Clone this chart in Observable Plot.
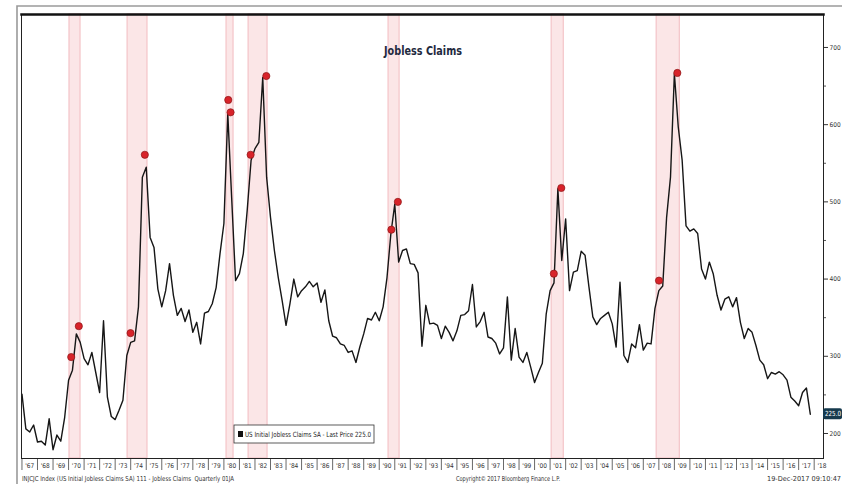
<!DOCTYPE html>
<html><head><meta charset="utf-8">
<script src="https://cdn.jsdelivr.net/npm/d3@7"></script>
<script src="https://cdn.jsdelivr.net/npm/@observablehq/plot@0.6"></script>
<style>body{margin:0;background:#fff} svg{display:block}</style>
</head><body><div id="chart"></div>
<script>
// Quarterly US initial jobless claims (thousands), starting 1967 Q1
const startYear = 1967;
const claims = [
  251,206,202,211,189,190,185,219,179,198,
  190,221,269,282,329,318,297,289,305,279,
  253,346,247,222,218,230,243,301,318,320,
  364,532,545,454,441,387,364,385,420,379,
  353,362,345,360,331,344,316,356,358,368,
  389,433,472,614,505,398,407,433,489,554,
  569,577,661,532,480,437,402,372,340,368,
  400,377,385,390,397,390,395,370,386,346,
  326,324,316,314,305,307,292,312,329,349,
  347,357,346,364,402,459,497,422,437,439,
  420,419,408,313,366,342,343,340,323,339,
  331,320,333,353,354,359,393,338,345,357,
  325,323,317,303,311,377,295,336,299,292,
  305,286,266,279,291,355,385,395,517,424,
  478,385,409,411,436,431,390,351,341,349,
  353,357,342,312,396,301,292,316,311,341,
  308,317,316,362,385,391,480,532,666,597,
  554,469,462,465,459,413,400,422,407,379,
  360,374,377,364,376,344,323,336,331,314,
  295,289,271,279,277,280,276,269,247,242,
  236,253,259,225
];
// Recession bands as drawn
const recessionStarts = [1970.06, 1973.80, 1980.17, 1981.59, 1990.60, 2001.10, 2007.86];
const recessionEnds   = [1970.77, 1975.08, 1980.62, 1982.81, 1991.31, 2001.88, 2009.35];
// event markers (start of recession and peak)
const markerDates  = [1970.17, 1970.66, 1973.99, 1974.91, 1980.28, 1980.43, 1981.72, 1982.73, 1990.78, 1991.2, 2001.24, 2001.72, 2008.01, 2009.19];
const markerValues = [299, 339, 330, 561, 632, 616, 561, 663, 464, 500, 407, 518, 398, 667];
const yTicks = [200, 300, 400, 500, 600, 700];
const yMinorTicks = [250, 350, 450, 550, 650];
const yearTicks = d3.range(1967, 2019);
const yearLabels = yearTicks.map(y => "'" + String(y).slice(2));
const title = "Jobless Claims";
const legendLabel = "US Initial Jobless Claims SA - Last Price 225.0";
const footerLeft = "INJCJC Index (US Initial Jobless Claims SA) 111 - Jobless Claims  Quarterly 01JA";
const footerMid = "Copyright\u00A9 2017 Bloomberg Finance L.P.";
const footerRight = "19-Dec-2017 09:10:47";

const series = claims.map((v, i) => ({date: startYear + i * 0.25, value: v}));
const recessions = recessionStarts.map((s, i) => ({start: s, end: recessionEnds[i]}));
const markers = markerDates.map((d, i) => ({date: d, value: markerValues[i]}));
const font = "'Liberation Sans Narrow', 'DejaVu Sans Condensed', 'Liberation Sans', sans-serif";

const plot = Plot.plot({
  width: 842, height: 484,
  marginTop: 14, marginBottom: 26, marginLeft: 21, marginRight: 19,
  x: {domain: [1966.97, 2018.6], label: null},
  y: {domain: [167.6, 742.7], label: null},
  style: {fontFamily: font, background: "#fff", color: "#333"},
  marks: [
    Plot.rect(recessions, {x1: "start", x2: "end", fill: "#fbe6e7"}),
    Plot.rect(recessions, {x1: "start", x2: "end", fill: "none", stroke: "#f4c4c8", strokeWidth: 1.2}),
    Plot.line(series, {x: "date", y: "value", stroke: "#161616", strokeWidth: 1.4}),
    Plot.dot(markers, {x: "date", y: "value", r: 3.6, fill: "#d8232a", stroke: "#8a1515", strokeWidth: 0.7}),
    Plot.axisY({anchor: "right", ticks: yTicks, tickSize: 4, tickPadding: 2, fontSize: 6.5, stroke: "#333", label: null}),
    Plot.axisY({anchor: "right", ticks: yMinorTicks, tickSize: 2, tickFormat: () => "", stroke: "#555", label: null}),
    Plot.axisX({ticks: yearTicks, tickSize: 12, tickFormat: () => "", stroke: "#444", strokeWidth: 0.8, label: null}),
    Plot.axisX({ticks: yearTicks.map(y => y + 0.5), tickSize: 0, tickPadding: 5, fontSize: 6.5, label: null,
      tickFormat: d => yearLabels[yearTicks.indexOf(Math.floor(d))]}),
    Plot.frame({stroke: "#222", strokeWidth: 1}),
    Plot.frame({anchor: "top", stroke: "#111", strokeWidth: 2.5})
  ]
});

const svg = d3.select(plot);
const ys = plot.scale("y");
// outer scan frame
svg.append("path").attr("d", "M17,484V6H842").attr("fill", "none").attr("stroke", "#9a9a9a").attr("stroke-width", 1.6);
// title
svg.append("text").attr("x", 423).attr("y", 55).attr("text-anchor", "middle").attr("font-family", font)
  .attr("font-size", 13).attr("font-weight", "bold").attr("fill", "#1f2a40")
  .attr("textLength", 78).attr("lengthAdjust", "spacingAndGlyphs").text(title);
// legend box
const lg = svg.append("g").attr("font-family", font).attr("text-anchor", "start");
lg.append("rect").attr("x", 234).attr("y", 425).attr("width", 140).attr("height", 18).attr("fill", "#fff").attr("stroke", "#333").attr("stroke-width", 0.8);
lg.append("rect").attr("x", 238).attr("y", 431).attr("width", 5).attr("height", 6).attr("fill", "#111");
lg.append("text").attr("x", 245).attr("y", 437).attr("font-size", 7.2).attr("fill", "#222")
  .attr("textLength", 126).attr("lengthAdjust", "spacingAndGlyphs").text(legendLabel);
// last value tag
const lastV = claims[claims.length - 1];
const ty = ys.apply(lastV);
svg.append("rect").attr("x", 823).attr("y", ty - 5.5).attr("width", 19).attr("height", 11).attr("rx", 2).attr("fill", "#163a4e");
svg.append("text").attr("x", 825).attr("y", ty + 2.5).attr("text-anchor", "start").attr("font-family", font).attr("font-size", 7).attr("fill", "#fff")
  .attr("textLength", 16).attr("lengthAdjust", "spacingAndGlyphs").text(lastV.toFixed(1));
// footer
const ft = svg.append("g").attr("font-family", font).attr("font-size", 6.8).attr("fill", "#333");
ft.append("text").attr("x", 22).attr("y", 481).attr("text-anchor", "start")
  .attr("textLength", 212).attr("lengthAdjust", "spacingAndGlyphs").text(footerLeft);
ft.append("text").attr("x", 508).attr("y", 481).attr("text-anchor", "middle")
  .attr("textLength", 104).attr("lengthAdjust", "spacingAndGlyphs").text(footerMid);
ft.append("text").attr("x", 841).attr("y", 481).attr("text-anchor", "end")
  .attr("textLength", 74).attr("lengthAdjust", "spacingAndGlyphs").text(footerRight);

document.getElementById("chart").appendChild(plot);
</script>
</body></html>
